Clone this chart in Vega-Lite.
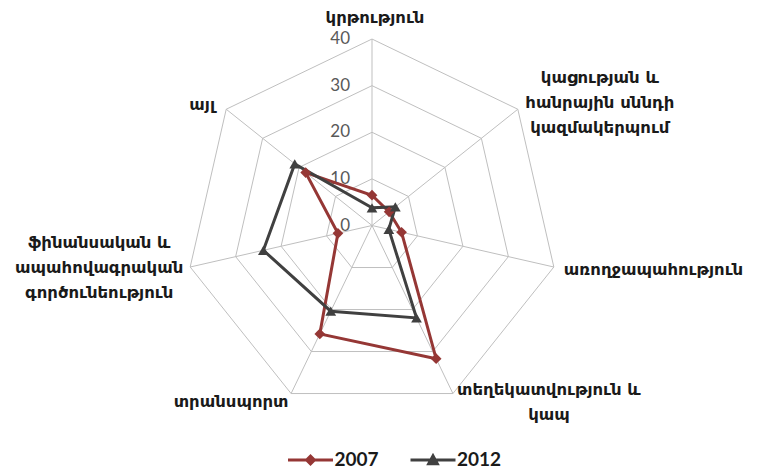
{
  "$schema": "https://vega.github.io/schema/vega-lite/v6.json",
  "width": 763,
  "height": 470,
  "autosize": "none",
  "padding": 0,
  "background": "white",
  "config": {"view": {"stroke": null}},
  "datasets": {
    "shares": [
      {"category": "կրթություն", "series": "2007", "value": 6.5},
      {"category": "կացության և հանրային սննդի կազմակերպում", "series": "2007", "value": 4.7},
      {"category": "առողջապահություն", "series": "2007", "value": 6.5},
      {"category": "տեղեկատվություն և կապ", "series": "2007", "value": 31.7},
      {"category": "տրանսպորտ", "series": "2007", "value": 25.8},
      {"category": "ֆինանսական և ապահովագրական գործունեություն", "series": "2007", "value": 7.5},
      {"category": "այլ", "series": "2007", "value": 18.2},
      {"category": "կրթություն", "series": "2012", "value": 3.8},
      {"category": "կացության և հանրային սննդի կազմակերպում", "series": "2012", "value": 6.4},
      {"category": "առողջապահություն", "series": "2012", "value": 3.7},
      {"category": "տեղեկատվություն և կապ", "series": "2012", "value": 22.0},
      {"category": "տրանսպորտ", "series": "2012", "value": 20.4},
      {"category": "ֆինանսական և ապահովագրական գործունեություն", "series": "2012", "value": 23.9},
      {"category": "այլ", "series": "2012", "value": 21.2}
    ],
    "rings": [
      {"level": 10, "k": [0, 1, 2, 3, 4, 5, 6]},
      {"level": 20, "k": [0, 1, 2, 3, 4, 5, 6]},
      {"level": 30, "k": [0, 1, 2, 3, 4, 5, 6]},
      {"level": 40, "k": [0, 1, 2, 3, 4, 5, 6]}
    ],
    "ticks": [
      {"level": 0}, {"level": 10}, {"level": 20}, {"level": 30}, {"level": 40}
    ]
  },
  "encoding": {
    "x": {"field": "x", "type": "quantitative", "scale": {"domain": [-79.79, 83.86], "nice": false, "zero": false}, "axis": null},
    "y": {"field": "y", "type": "quantitative", "scale": {"domain": [-52.44, 48.37], "nice": false, "zero": false}, "axis": null}
  },
  "layer": [
    {
      "data": {"name": "rings"},
      "transform": [
        {"flatten": ["k"]},
        {"calculate": "datum.level * sin(2 * PI * datum.k / 7)", "as": "x"},
        {"calculate": "datum.level * cos(2 * PI * datum.k / 7)", "as": "y"}
      ],
      "mark": {"type": "line", "interpolate": "linear-closed", "color": "#bfbfbf", "strokeWidth": 1},
      "encoding": {
        "detail": {"field": "level", "type": "nominal"},
        "order": {"field": "k", "type": "quantitative"}
      }
    },
    {
      "data": {"name": "shares"},
      "transform": [
        {"filter": "datum.series == '2007'"},
        {"calculate": "indexof(['կրթություն','կացության և հանրային սննդի կազմակերպում','առողջապահություն','տեղեկատվություն և կապ','տրանսպորտ','ֆինանսական և ապահովագրական գործունեություն','այլ'], datum.category)", "as": "k"},
        {"calculate": "0", "as": "x"},
        {"calculate": "0", "as": "y"},
        {"calculate": "40 * sin(2 * PI * datum.k / 7)", "as": "ex"},
        {"calculate": "40 * cos(2 * PI * datum.k / 7)", "as": "ey"}
      ],
      "mark": {"type": "rule", "color": "#bfbfbf", "strokeWidth": 1},
      "encoding": {
        "x2": {"field": "ex"},
        "y2": {"field": "ey"}
      }
    },
    {
      "data": {"name": "ticks"},
      "transform": [
        {"calculate": "0", "as": "x"},
        {"calculate": "datum.level", "as": "y"}
      ],
      "mark": {"type": "text", "align": "right", "baseline": "middle", "dx": -22, "font": "Lato", "fontSize": 17, "color": "#595959"},
      "encoding": {
        "text": {"field": "level", "type": "quantitative"}
      }
    },
    {
      "data": {"name": "shares"},
      "transform": [
        {"calculate": "indexof(['կրթություն','կացության և հանրային սննդի կազմակերպում','առողջապահություն','տեղեկատվություն և կապ','տրանսպորտ','ֆինանսական և ապահովագրական գործունեություն','այլ'], datum.category)", "as": "k"},
        {"calculate": "datum.value * sin(2 * PI * datum.k / 7)", "as": "x"},
        {"calculate": "datum.value * cos(2 * PI * datum.k / 7)", "as": "y"}
      ],
      "resolve": {"scale": {"shape": "independent"}, "legend": {"shape": "independent", "color": "independent"}},
      "layer": [
        {
          "mark": {"type": "line", "interpolate": "linear-closed", "strokeWidth": 3},
          "encoding": {
            "color": {"field": "series", "type": "nominal", "scale": {"domain": ["2007", "2012"], "range": ["#953735", "#404040"]}, "legend": null},
            "order": {"field": "k", "type": "quantitative"}
          }
        },
        {
          "mark": {"type": "point", "filled": true, "opacity": 1, "size": 115},
          "encoding": {
            "color": {"field": "series", "type": "nominal", "scale": {"domain": ["2007", "2012"], "range": ["#953735", "#404040"]}, "legend": null},
            "shape": {"field": "series", "type": "nominal", "scale": {"domain": ["2007", "2012"], "range": ["diamond", "triangle-up"]}, "legend": null}
          }
        },
        {
          "transform": [{"filter": "false"}],
          "mark": {"type": "point", "filled": true, "opacity": 1},
          "encoding": {
            "color": {
              "field": "series", "type": "nominal",
              "scale": {"domain": ["2007", "2012"], "range": ["#953735", "#404040"]},
              "legend": {
                "title": null,
                "orient": "none",
                "legendX": 300.5,
                "legendY": 450,
                "direction": "horizontal",
                "symbolSize": 400,
                "symbolStrokeWidth": 0,
                "labelFont": "Lato",
                "labelFontSize": 19,
                "labelFontWeight": "bold",
                "labelColor": "#1a1a1a",
                "labelOffset": 14,
                "columnPadding": 30.5
              }
            },
            "shape": {
              "field": "series", "type": "nominal",
              "scale": {"domain": ["2007", "2012"], "range": ["M-2.25,-0.16L2.25,-0.16L2.25,0.16L-2.25,0.16Z M0,-0.6L0.6,0L0,0.6L-0.6,0Z", "M-2.25,-0.16L2.25,-0.16L2.25,0.16L-2.25,0.16Z M0,-0.72L0.68,0.52L-0.68,0.52Z"]}
            }
          }
        }
      ]
    },
    {
      "data": {"name": "shares"},
      "transform": [
        {"filter": "datum.series == '2007'"},
        {"calculate": "indexof(['կրթություն','կացության և հանրային սննդի կազմակերպում','առողջապահություն','տեղեկատվություն և կապ','տրանսպորտ','ֆինանսական և ապահովագրական գործունեություն','այլ'], datum.category)", "as": "k"},
        {"calculate": "40 * sin(2 * PI * datum.k / 7)", "as": "x"},
        {"calculate": "40 * cos(2 * PI * datum.k / 7)", "as": "y"}
      ],
      "layer": [
        {
          "transform": [{"filter": "datum.k == 0"}],
          "mark": {"type": "text", "align": "center", "baseline": "middle", "dx": 3, "dy": -21, "font": "DejaVu Sans", "fontWeight": "bold", "fontSize": 16.5, "color": "#1a1a1a", "lineHeight": 25},
          "encoding": {"text": {"value": "կրթություն"}}
        },
        {
          "transform": [{"filter": "datum.k == 1"}],
          "mark": {"type": "text", "align": "center", "baseline": "middle", "dx": 82, "dy": -31, "font": "DejaVu Sans", "fontWeight": "bold", "fontSize": 16.5, "color": "#1a1a1a", "lineHeight": 25},
          "encoding": {"text": {"value": ["կացության և", "հանրային սննդի", "կազմակերպում"]}}
        },
        {
          "transform": [{"filter": "datum.k == 2"}],
          "mark": {"type": "text", "align": "left", "baseline": "middle", "dx": 10, "dy": 3, "font": "DejaVu Sans", "fontWeight": "bold", "fontSize": 16.5, "color": "#1a1a1a", "lineHeight": 25},
          "encoding": {"text": {"value": "առողջապահություն"}}
        },
        {
          "transform": [{"filter": "datum.k == 3"}],
          "mark": {"type": "text", "align": "center", "baseline": "middle", "dx": 96, "dy": -3.5, "font": "DejaVu Sans", "fontWeight": "bold", "fontSize": 16.5, "color": "#1a1a1a", "lineHeight": 25},
          "encoding": {"text": {"value": ["տեղեկատվություն և", "կապ"]}}
        },
        {
          "transform": [{"filter": "datum.k == 4"}],
          "mark": {"type": "text", "align": "center", "baseline": "middle", "dx": -60, "dy": 8, "font": "DejaVu Sans", "fontWeight": "bold", "fontSize": 16.5, "color": "#1a1a1a", "lineHeight": 25},
          "encoding": {"text": {"value": "տրանսպորտ"}}
        },
        {
          "transform": [{"filter": "datum.k == 5"}],
          "mark": {"type": "text", "align": "center", "baseline": "middle", "dx": -91, "dy": -24, "font": "DejaVu Sans", "fontWeight": "bold", "fontSize": 16.5, "color": "#1a1a1a", "lineHeight": 25},
          "encoding": {"text": {"value": ["ֆինանսական և", "ապահովագրական", "գործունեություն"]}}
        },
        {
          "transform": [{"filter": "datum.k == 6"}],
          "mark": {"type": "text", "align": "center", "baseline": "middle", "dx": -24, "dy": -4, "font": "DejaVu Sans", "fontWeight": "bold", "fontSize": 16.5, "color": "#1a1a1a", "lineHeight": 25},
          "encoding": {"text": {"value": "այլ"}}
        }
      ]
    }
  ]
}
